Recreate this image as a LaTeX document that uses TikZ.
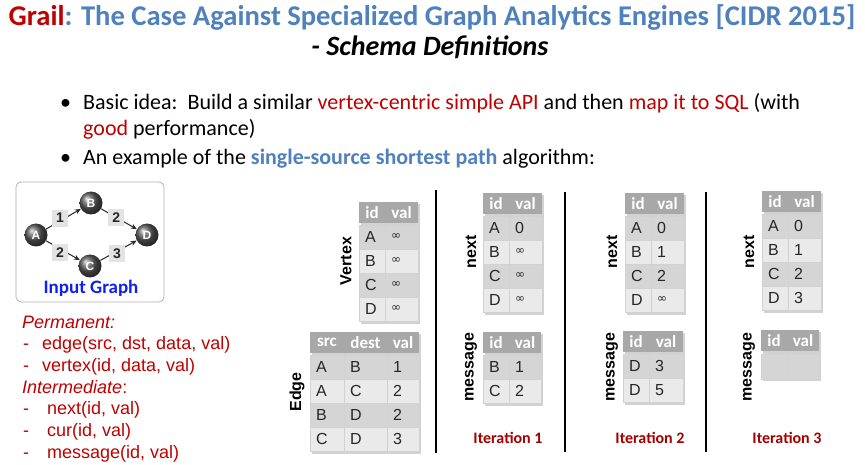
\documentclass[tikz,border=0pt]{standalone}
\usepackage{fontspec}
\setmainfont{Carlito}
\newfontfamily\arialfont{Liberation Sans}
\newfontfamily\symfont{DejaVu Sans}
\usepackage{xcolor}
\usetikzlibrary{arrows.meta}

\definecolor{offblue}{HTML}{4F81BD}
\definecolor{offred}{HTML}{C00000}
\definecolor{iterred}{HTML}{A50000}
\definecolor{hdrgray}{HTML}{A8A8A8}
\definecolor{rowdark}{HTML}{D5D5D5}
\definecolor{rowlight}{HTML}{EAEAEA}
\definecolor{graphblue}{HTML}{1020F0}

\newcommand{\infsym}{{\symfont\fontsize{12}{12}\selectfont ∞}}

\tikzset{
  ball/.style={circle,shading=ball,ball color=black!65,minimum size=23pt,inner sep=0pt,
    font=\arialfont\bfseries\fontsize{12}{12}\selectfont,text=white},
  wlbl/.style={fill=gray!22,minimum width=16pt,minimum height=17pt,inner sep=0pt,
    font=\arialfont\bfseries\fontsize{14}{14}\selectfont},
  garrow/.style={-{Stealth[length=6pt,width=5pt]},line width=1pt,black!85},
  tshadow/.style={fill=gray!35},
  hdr/.style={fill=hdrgray},
  hdtxt/.style={text=white,inner sep=0pt,font=\bfseries\fontsize{17}{17}\selectfont},
  cell/.style={draw=gray!35,line width=0.7pt},
  celltxt/.style={anchor=west,inner sep=0pt,text=black!85,font=\arialfont\fontsize{16}{16}\selectfont},
  tname/.style={rotate=90,inner sep=0pt,font=\arialfont\bfseries\fontsize{16}{16}\selectfont},
  itertxt/.style={text=iterred,font=\bfseries\fontsize{16}{16}\selectfont},
  sepline/.style={line width=1.6pt,black},
  btxt/.style={anchor=base west,inner sep=0pt,font=\fontsize{22}{22}\selectfont},
  schema/.style={anchor=base west,inner sep=0pt,text=offred,font=\arialfont\fontsize{18}{18}\selectfont},
}

\begin{document}
\begin{tikzpicture}[x=1pt,y=-1pt]
    \path[use as bounding box,fill=white] (0,0) rectangle (865,465);

    % title
        \node[text=offblue,font=\bfseries\fontsize{28.6}{28.6}\selectfont] (title) at (432,17)
            {\textcolor{offred}{Grail}: The Case Against Specialized Graph Analytics Engines [CIDR 2015]};
        \node[font=\bfseries\itshape\fontsize{28}{28}\selectfont] (subtitle) at (430,47) {- Schema Definitions};

    % bullets
        \node[btxt] (dot1) at (60,110) {\textbullet};
        \node[btxt] (line1) at (83,110) {Basic idea:\ \ Build a similar \textcolor{offred}{vertex-centric simple API} and then \textcolor{offred}{map it to SQL} (with};
        \node[btxt] (line2) at (83,136) {\textcolor{offred}{good} performance)};
        \node[btxt] (dot2) at (60,165) {\textbullet};
        \node[btxt] (line3) at (83,165) {An example of the \textcolor{offblue}{\bfseries single-source shortest path} algorithm:};

    % input graph
        \draw[gray!60,line width=0.8pt,rounded corners=5pt] (16,182) rectangle (164,302);
        \node[ball] (A) at (36,235) {A};
        \node[ball] (B) at (91,203) {B};
        \node[ball] (C) at (90,266) {C};
        \node[ball] (D) at (147,235) {D};
        \draw[garrow] (A) -- (B) node[wlbl,pos=0.4,yshift=3pt] (wab) {1};
        \draw[garrow] (B) -- (D) node[wlbl,pos=0.42] (wbd) {2};
        \draw[garrow] (A) -- (C) node[wlbl,pos=0.41,yshift=-4pt] (wac) {2};
        \draw[garrow] (C) -- (D) node[wlbl,pos=0.46,yshift=-2pt] (wcd) {3};
        \node[text=graphblue,font=\bfseries\fontsize{19}{19}\selectfont] (glabel) at (91,288) {Input Graph};

    % schema list
        \node[schema] (perm) at (22,328) {\itshape Permanent:};
        \node[schema] (dash1) at (23,349.7) {-};
        \node[schema] (edge) at (42,349.7) {edge(src, dst, data, val)};
        \node[schema] (dash2) at (23,371.4) {-};
        \node[schema] (vertex) at (42,371.4) {vertex(id, data, val)};
        \node[schema] (inter) at (22,393) {\itshape Intermediate\upshape:};
        \node[schema] (dash3) at (23,414.8) {-};
        \node[schema] (nxt) at (47,414.8) {next(id, val)};
        \node[schema] (dash4) at (23,436.5) {-};
        \node[schema] (cur) at (47,436.5) {cur(id, val)};
        \node[schema] (dash5) at (23,458.2) {-};
        \node[schema] (msg) at (47,458.2) {message(id, val)};

    % vertex table
        \node[tname] (vname) at (346,261) {Vertex};
        \fill[tshadow] (360.5,204) rectangle (419.5,323.5);
        \fill[hdr] (359,202) rectangle (418,223);
        \node[hdtxt] (vhid) at (372,212.5) {id};
        \node[hdtxt] (vhval) at (401.5,212.5) {val};
        \foreach \k/\v/\c [count=\i from 0] in {A/\infsym/rowdark,B/\infsym/rowlight,C/\infsym/rowdark,D/\infsym/rowlight}{
            \draw[cell,fill=\c] (359,{225+24*\i}) rectangle (418,{249+24*\i});
            \draw[cell] (385,{225+24*\i}) -- (385,{249+24*\i});
            \node[celltxt] (vk\k) at (365,{237+24*\i}) {\k};
            \node[celltxt] (vv\k) at (391,{237+24*\i}) {\v};
        }

    % edge table
        \node[tname] (ename) at (297,392) {Edge};
        \fill[tshadow] (311.5,334) rectangle (420.5,453.5);
        \fill[hdr] (310,332) rectangle (419,353);
        \node[hdtxt] (ehsrc) at (327,342.5) {src};
        \node[hdtxt] (ehdst) at (365.5,342.5) {dest};
        \node[hdtxt] (ehval) at (403,342.5) {val};
        \foreach \s/\d/\v/\c [count=\i from 0] in {A/B/1/rowdark,A/C/2/rowlight,B/D/2/rowdark,C/D/3/rowlight}{
            \draw[cell,fill=\c] (310,{355+24*\i}) rectangle (419,{379+24*\i});
            \draw[cell] (344,{355+24*\i}) -- (344,{379+24*\i});
            \draw[cell] (387,{355+24*\i}) -- (387,{379+24*\i});
            \node[celltxt] (es\i) at (316,{367+24*\i}) {\s};
            \node[celltxt] (ed\i) at (350,{367+24*\i}) {\d};
            \node[celltxt] (ev\i) at (393,{367+24*\i}) {\v};
        }

    % separators
        \draw[sepline] (436,190) -- (436,453);
        \draw[sepline] (565,192) -- (565,452);
        \draw[sepline] (706,192) -- (706,452);

    % iteration 1
        \node[tname] (nname1) at (471,252) {next};
        \fill[tshadow] (484.5,195) rectangle (543.5,314.5);
        \fill[hdr] (483,193) rectangle (542,214);
        \node[hdtxt] (nhid1) at (496,203.5) {id};
        \node[hdtxt] (nhval1) at (525.5,203.5) {val};
        \foreach \k/\v/\c [count=\i from 0] in {A/0/rowdark,B/\infsym/rowlight,C/\infsym/rowdark,D/\infsym/rowlight}{
            \draw[cell,fill=\c] (483,{216+24*\i}) rectangle (542,{240+24*\i});
            \draw[cell] (509,{216+24*\i}) -- (509,{240+24*\i});
            \node[celltxt] (nk1\k) at (489,{228+24*\i}) {\k};
            \node[celltxt] (nv1\k) at (515,{228+24*\i}) {\v};
        }
        \node[tname] (mname1) at (471,367) {message};
        \fill[tshadow] (484.5,334) rectangle (542.5,405.5);
        \fill[hdr] (483,332) rectangle (541,353);
        \node[hdtxt] (mhid1) at (496,342.5) {id};
        \node[hdtxt] (mhval1) at (525,342.5) {val};
        \foreach \k/\v/\c [count=\i from 0] in {B/1/rowdark,C/2/rowlight}{
            \draw[cell,fill=\c] (483,{355+24*\i}) rectangle (541,{379+24*\i});
            \draw[cell] (509,{355+24*\i}) -- (509,{379+24*\i});
            \node[celltxt] (mk1\k) at (489,{367+24*\i}) {\k};
            \node[celltxt] (mv1\k) at (515,{367+24*\i}) {\v};
        }
        \node[itertxt] (iter1) at (508,438) {Iteration 1};

    % iteration 2
        \node[tname] (nname2) at (612,252) {next};
        \fill[tshadow] (626.5,195) rectangle (685.5,314.5);
        \fill[hdr] (625,193) rectangle (684,214);
        \node[hdtxt] (nhid2) at (638,203.5) {id};
        \node[hdtxt] (nhval2) at (667.5,203.5) {val};
        \foreach \k/\v/\c [count=\i from 0] in {A/0/rowdark,B/1/rowlight,C/2/rowdark,D/\infsym/rowlight}{
            \draw[cell,fill=\c] (625,{216+24*\i}) rectangle (684,{240+24*\i});
            \draw[cell] (651,{216+24*\i}) -- (651,{240+24*\i});
            \node[celltxt] (nk2\k) at (631,{228+24*\i}) {\k};
            \node[celltxt] (nv2\k) at (657,{228+24*\i}) {\v};
        }
        \node[tname] (mname2) at (612,367) {message};
        \fill[tshadow] (624.5,333) rectangle (684.5,404.5);
        \fill[hdr] (623,331) rectangle (683,352);
        \node[hdtxt] (mhid2) at (636,341.5) {id};
        \node[hdtxt] (mhval2) at (666,341.5) {val};
        \foreach \k/\v/\c [count=\i from 0] in {D/3/rowdark,D/5/rowlight}{
            \draw[cell,fill=\c] (623,{354+24*\i}) rectangle (683,{378+24*\i});
            \draw[cell] (649,{354+24*\i}) -- (649,{378+24*\i});
            \node[celltxt] (mk2\i) at (629,{366+24*\i}) {\k};
            \node[celltxt] (mv2\i) at (655,{366+24*\i}) {\v};
        }
        \node[itertxt] (iter2) at (650,438) {Iteration 2};

    % iteration 3
        \node[tname] (nname3) at (749,252) {next};
        \fill[tshadow] (763.5,193) rectangle (822.5,312.5);
        \fill[hdr] (762,191) rectangle (821,212);
        \node[hdtxt] (nhid3) at (775,201.5) {id};
        \node[hdtxt] (nhval3) at (804.5,201.5) {val};
        \foreach \k/\v/\c [count=\i from 0] in {A/0/rowdark,B/1/rowlight,C/2/rowdark,D/3/rowlight}{
            \draw[cell,fill=\c] (762,{214+24*\i}) rectangle (821,{238+24*\i});
            \draw[cell] (788,{214+24*\i}) -- (788,{238+24*\i});
            \node[celltxt] (nk3\k) at (768,{226+24*\i}) {\k};
            \node[celltxt] (nv3\k) at (794,{226+24*\i}) {\v};
        }
        \node[tname] (mname3) at (749,367) {message};
        \fill[tshadow] (762.5,332) rectangle (820.5,380.5);
        \fill[hdr] (761,330) rectangle (819,351);
        \node[hdtxt] (mhid3) at (774,340.5) {id};
        \node[hdtxt] (mhval3) at (803,340.5) {val};
        \draw[cell,fill=rowdark] (761,354) rectangle (819,379);
        \draw[cell] (787,354) -- (787,379);
        \node[itertxt] (iter3) at (787,438) {Iteration 3};

\end{tikzpicture}
\end{document}
